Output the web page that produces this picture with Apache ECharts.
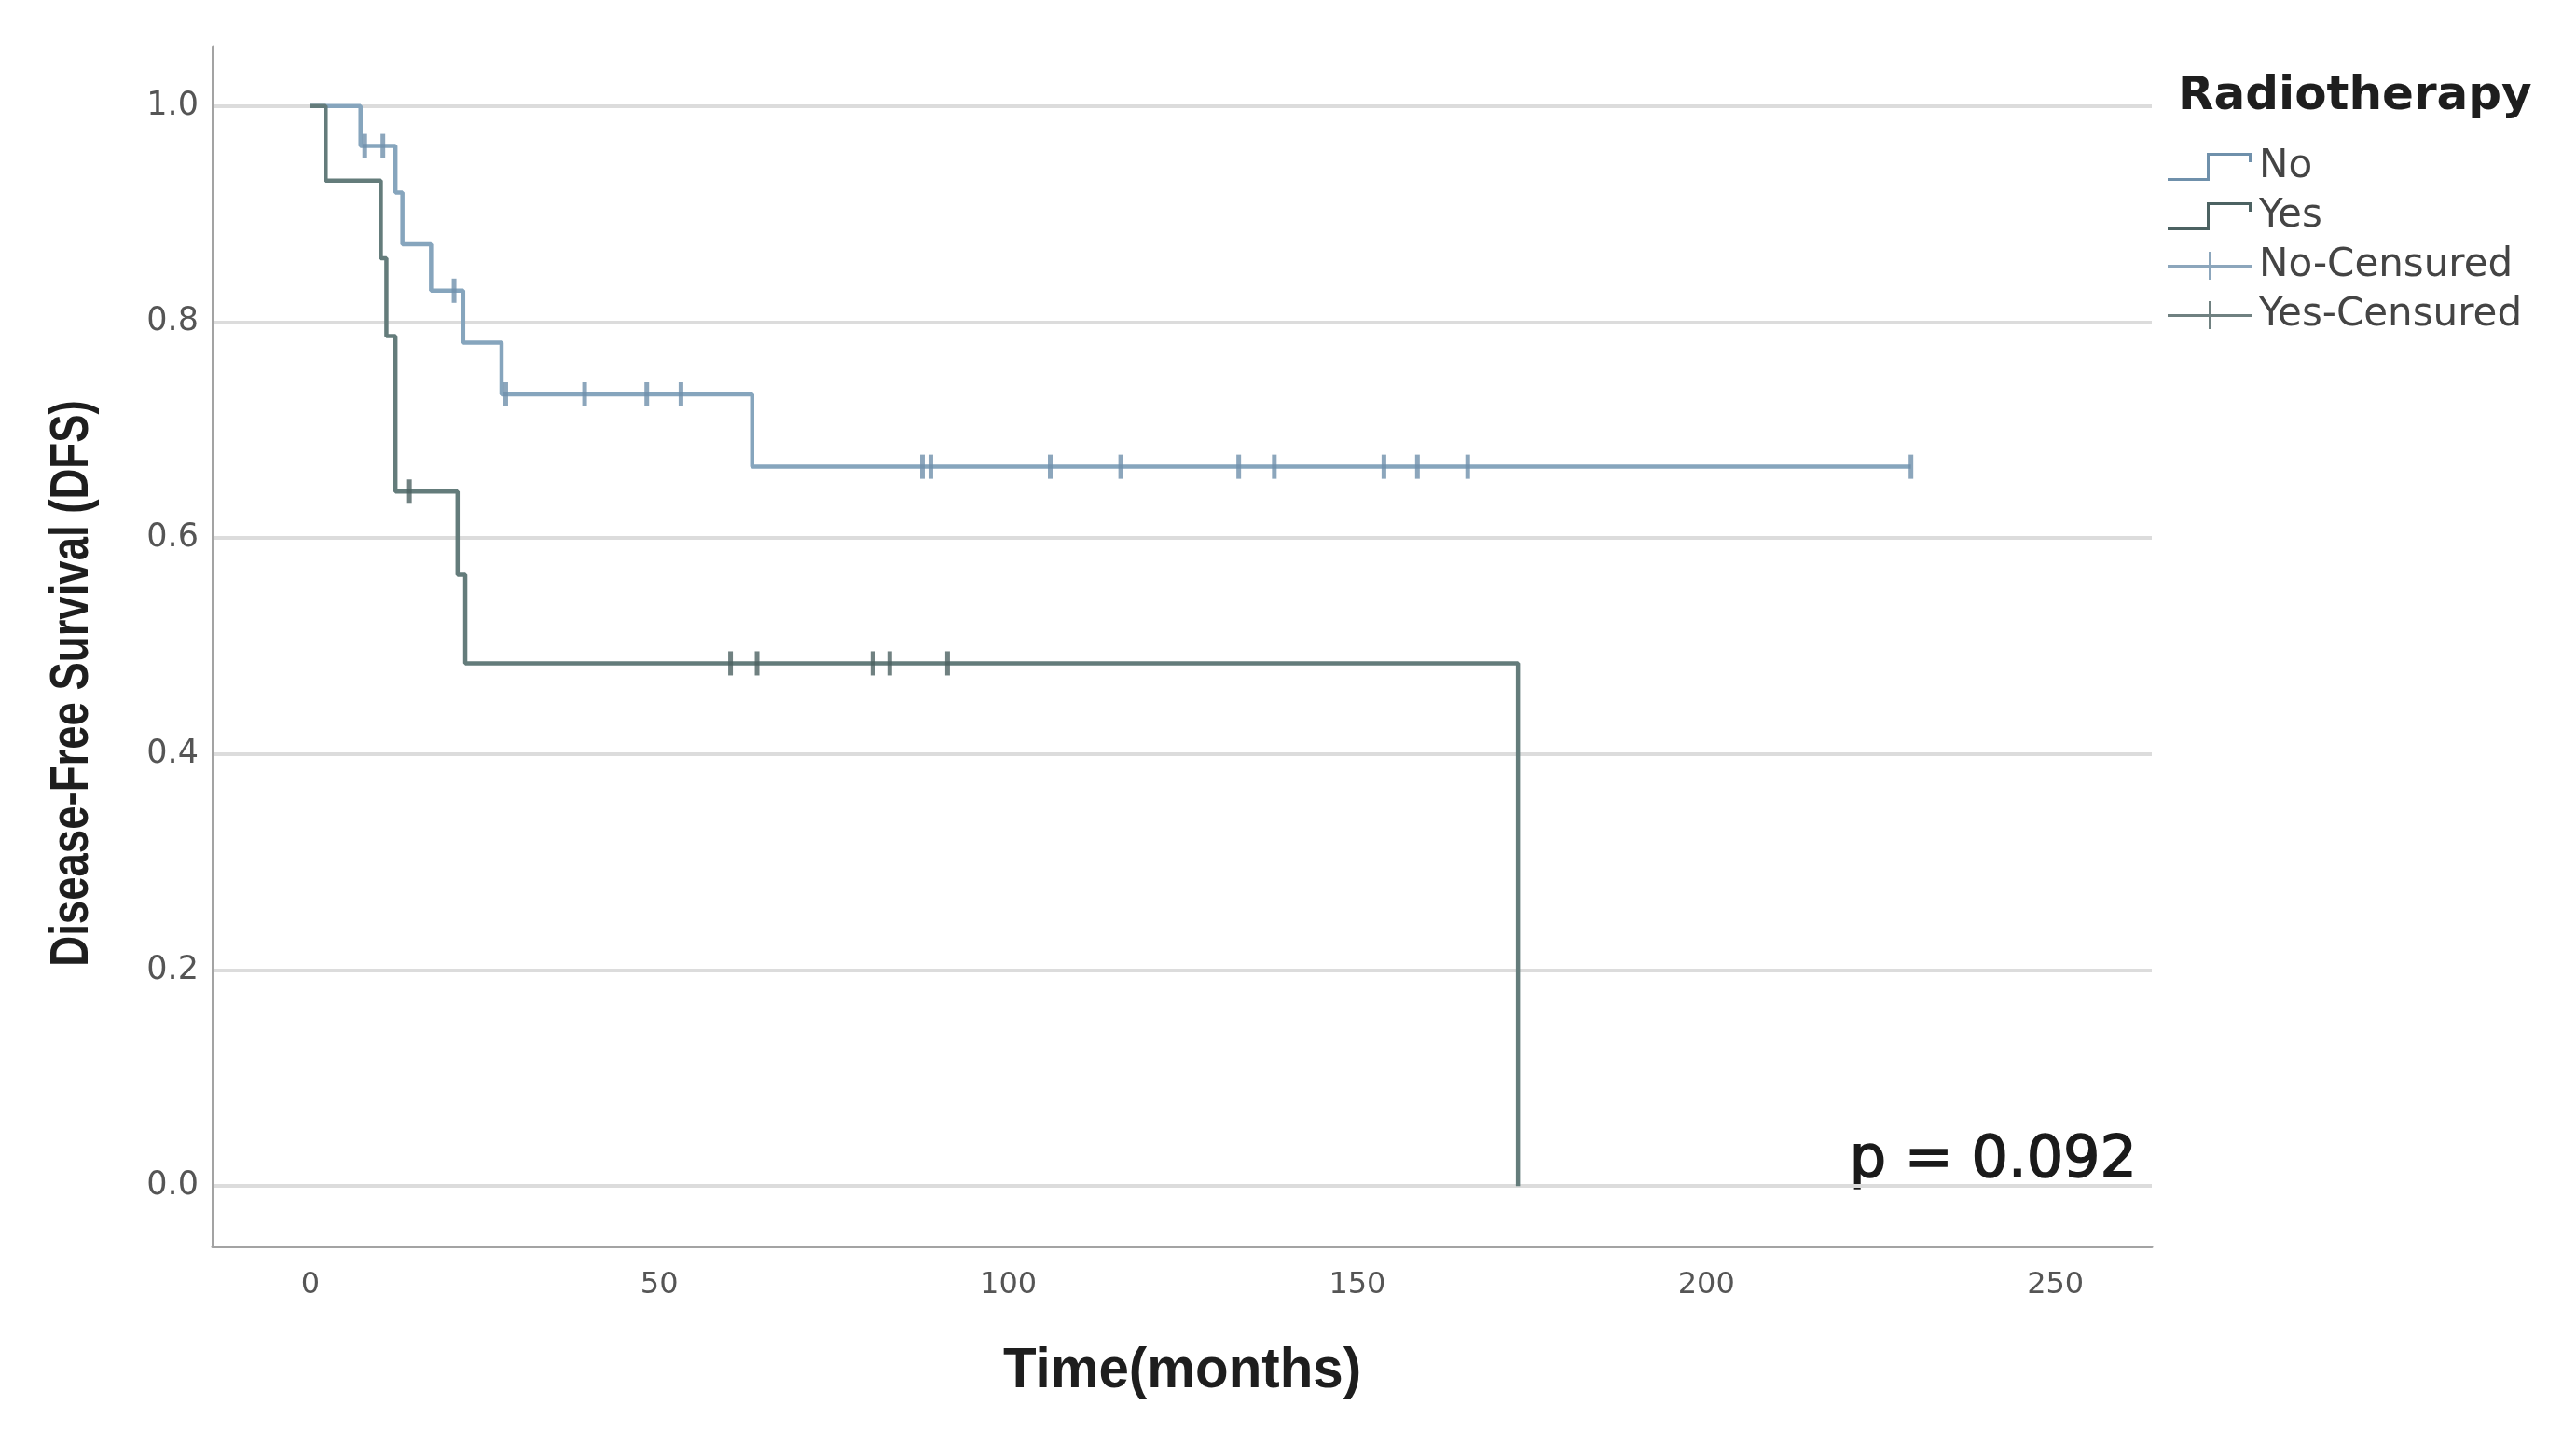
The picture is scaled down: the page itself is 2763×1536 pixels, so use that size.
<!DOCTYPE html>
<html>
<head>
<meta charset="utf-8">
<script src="https://cdn.jsdelivr.net/npm/echarts@6/dist/echarts.min.js"></script>
<style>
  html, body { margin: 0; padding: 0; background: #fff; }
  #chart { width: 2763px; height: 1536px; }
</style>
</head>
<body>
<div id="chart"></div>
<script>
// Kaplan-Meier steps (months, survival)
const noTimes = [0, 7.2, 12.2, 13.2, 17.3, 21.9, 27.4, 63.3, 229.3]
const noSurv = [1, 0.963, 0.92, 0.872, 0.829, 0.781, 0.733, 0.666, 0.666]
const yesTimes = [0, 2.2, 10.1, 10.9, 12.2, 21.1, 22.2, 173.0]
const yesSurv = [1, 0.931, 0.859, 0.787, 0.643, 0.566, 0.484, 0]

// censored observations
const noCensorTimes = [7.8, 10.4, 20.6, 28.0, 39.3, 48.2, 53.1, 87.7, 88.9, 106.0, 116.1, 133.0, 138.1, 153.8, 158.6, 165.8, 229.3]
const noCensorSurv = [0.963, 0.963, 0.829, 0.733, 0.733, 0.733, 0.733, 0.666, 0.666, 0.666, 0.666, 0.666, 0.666, 0.666, 0.666, 0.666, 0.666]
const yesCensorTimes = [14.2, 60.2, 64.0, 80.6, 83.0, 91.3]
const yesCensorSurv = [0.643, 0.484, 0.484, 0.484, 0.484, 0.484]

const xTicks = [0, 50, 100, 150, 200, 250]
const yTicks = [0, 0.2, 0.4, 0.6, 0.8, 1.0]
const groups = ['No', 'Yes', 'No-Censured', 'Yes-Censured']

const colNo = '#86a5bd'
const colNoCens = '#6f90ab'
const colYes = '#647c7b'
const colYesCens = '#4c6262'

const FONT = "'DejaVu Sans', sans-serif"
const ARIAL = "'Liberation Sans', Arial, sans-serif"

// legend icons (90 x 30 box)
const stepIcon = 'path://M0,27 L45,27 L45,30 L0,30 Z M42,0 L45,0 L45,30 L42,30 Z M42,0 L90,0 L90,3 L42,3 Z M87,0 L90,0 L90,10 L87,10 Z'
const censIcon = 'path://M0,14 L90,14 L90,17 L0,17 Z M44,0 L47,0 L47,30 L44,30 Z'

const zip = (xs, ys) => xs.map((x, i) => [x, ys[i]])

const chart = echarts.init(document.getElementById('chart'), null, { renderer: 'canvas' })

chart.setOption({
  backgroundColor: '#ffffff',
  animation: false,
  grid: { left: 228, right: 455, top: 50, bottom: 199 },
  title: {
    text: 'Radiotherapy',
    left: 2336,
    top: 79,
    padding: 0,
    textStyle: { fontFamily: FONT, fontSize: 50, fontWeight: 'bold', color: '#1e1e1e' }
  },
  legend: {
    orient: 'vertical',
    left: 2325,
    top: 158,
    padding: 0,
    itemWidth: 96,
    itemHeight: 30,
    itemGap: 11,
    textStyle: { fontFamily: FONT, fontSize: 42, color: '#444', lineHeight: 38 },
    data: [
      { name: groups[0], icon: stepIcon, itemStyle: { color: colNoCens } },
      { name: groups[1], icon: stepIcon, itemStyle: { color: colYesCens } },
      { name: groups[2], icon: censIcon, itemStyle: { color: colNoCens } },
      { name: groups[3], icon: censIcon, itemStyle: { color: colYesCens } }
    ]
  },
  xAxis: {
    type: 'value',
    min: -14,
    max: 263.8,
    axisLine: { show: true, onZero: false, lineStyle: { color: '#a3a3a3', width: 3 } },
    axisTick: { show: false },
    splitLine: { show: false },
    axisLabel: {
      customValues: xTicks,
      margin: 26,
      fontFamily: FONT,
      fontSize: 32,
      color: '#555'
    }
  },
  yAxis: {
    type: 'value',
    min: -0.056,
    max: 1.055,
    axisLine: { show: true, onZero: false, lineStyle: { color: '#a3a3a3', width: 3 } },
    axisTick: { show: false, customValues: yTicks },
    splitLine: { show: true, lineStyle: { color: '#dcdcdc', width: 4 } },
    axisLabel: {
      customValues: yTicks,
      margin: 15,
      fontFamily: FONT,
      fontSize: 35,
      color: '#555',
      formatter: v => v.toFixed(1)
    }
  },
  graphic: [
    {
      type: 'text',
      x: 78,
      y: 733,
      rotation: Math.PI / 2,
      scaleX: 0.785,
      style: {
        text: 'Disease-Free Survival (DFS)',
        fontFamily: ARIAL,
        fontSize: 58,
        fontWeight: 'bold',
        fill: '#1e1e1e',
        textAlign: 'center',
        textVerticalAlign: 'middle'
      }
    },
    {
      type: 'text',
      x: 1268,
      y: 1471,
      scaleX: 0.94,
      style: {
        text: 'Time(months)',
        fontFamily: ARIAL,
        fontSize: 62,
        fontWeight: 'bold',
        fill: '#1e1e1e',
        textAlign: 'center',
        textVerticalAlign: 'middle'
      }
    },
    {
      type: 'text',
      x: 2292,
      y: 1277,
      style: {
        text: 'p = 0.092',
        fontFamily: FONT,
        fontSize: 62,
        fill: '#1a1a1a',
        stroke: '#1a1a1a',
        lineWidth: 1.5,
        textAlign: 'right',
        textVerticalAlign: 'bottom'
      }
    }
  ],
  series: [
    {
      name: groups[0],
      type: 'line',
      step: 'end',
      symbol: 'none',
      color: colNo,
      lineStyle: { width: 4.5, color: colNo },
      data: zip(noTimes, noSurv),
      z: 3
    },
    {
      name: groups[1],
      type: 'line',
      step: 'end',
      symbol: 'none',
      color: colYes,
      lineStyle: { width: 4.5, color: colYes },
      data: zip(yesTimes, yesSurv),
      z: 3
    },
    {
      name: groups[2],
      type: 'scatter',
      symbol: 'rect',
      symbolSize: [5, 26],
      color: colNoCens,
      data: zip(noCensorTimes, noCensorSurv),
      z: 4
    },
    {
      name: groups[3],
      type: 'scatter',
      symbol: 'rect',
      symbolSize: [5, 26],
      color: colYesCens,
      data: zip(yesCensorTimes, yesCensorSurv),
      z: 4
    }
  ]
})
</script>
</body>
</html>
